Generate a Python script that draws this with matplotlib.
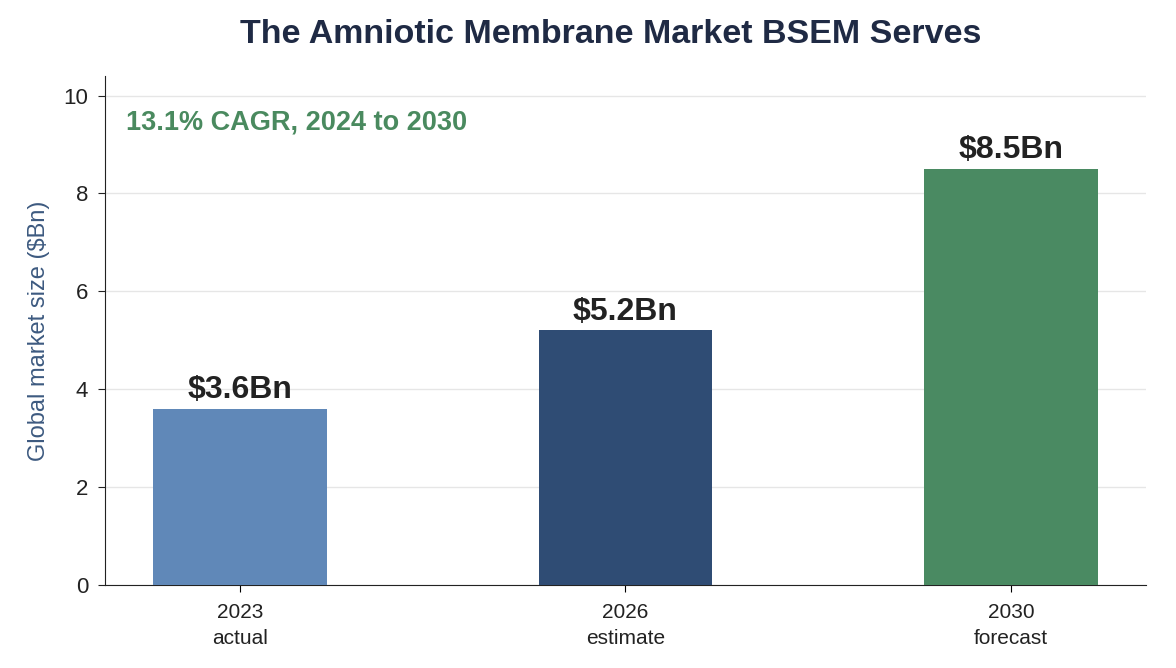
import matplotlib
matplotlib.use("Agg")
import matplotlib.pyplot as plt

plt.rcParams['font.family'] = ['Liberation Sans', 'DejaVu Sans']

years = ["2023", "2026", "2030"]
kinds = ["actual", "estimate", "forecast"]
values = [3.6, 5.2, 8.5]
labels = ["$3.6Bn", "$5.2Bn", "$8.5Bn"]
colors = ["#6088b8", "#2f4c74", "#4a8a62"]

fig = plt.figure(figsize=(11.76, 6.68), dpi=100)
ax = fig.add_axes([0.0893, 0.1243, 0.885, 0.762])

x = range(len(values))
ax.bar(x, values, width=0.45, color=colors, zorder=3)
for i, v in enumerate(values):
    ax.text(i, v + 0.08, labels[i].replace("$", r"\$"), ha="center", va="bottom",
            fontsize=23, fontweight="bold", color="#222222")

ax.set_xticks(list(x))
ax.set_xticklabels([y + "\n" + k for y, k in zip(years, kinds)], fontsize=15,
                   color="#222222", linespacing=1.45)
ax.set_xlim(-0.35, 2.35)
ax.set_ylim(0, 10.4)
ax.set_yticks([0, 2, 4, 6, 8, 10])
ax.tick_params(axis="y", labelsize=16, colors="#222222", length=5, pad=7)
ax.tick_params(axis="x", length=5, pad=8)
ax.grid(axis="y", color="#e6e6e6", linewidth=1, zorder=0)
ax.spines["top"].set_visible(False)
ax.spines["right"].set_visible(False)
ax.spines["left"].set_color("#222222")
ax.spines["bottom"].set_color("#222222")
ax.set_ylabel("Global market size ($Bn)".replace("$", r"\$"), fontsize=17, color="#3d5a80", labelpad=10)

ax.text(0.02, 0.935, "13.1% CAGR, 2024 to 2030", transform=ax.transAxes,
        fontsize=19.5, fontweight="bold", color="#4a8a5f", va="top")

fig.text(0.519, 0.948, "The Amniotic Membrane Market BSEM Serves", fontsize=24.5,
         fontweight="bold", color="#1f2a44", ha="center", va="center")

fig.savefig("out.png", dpi=100)
